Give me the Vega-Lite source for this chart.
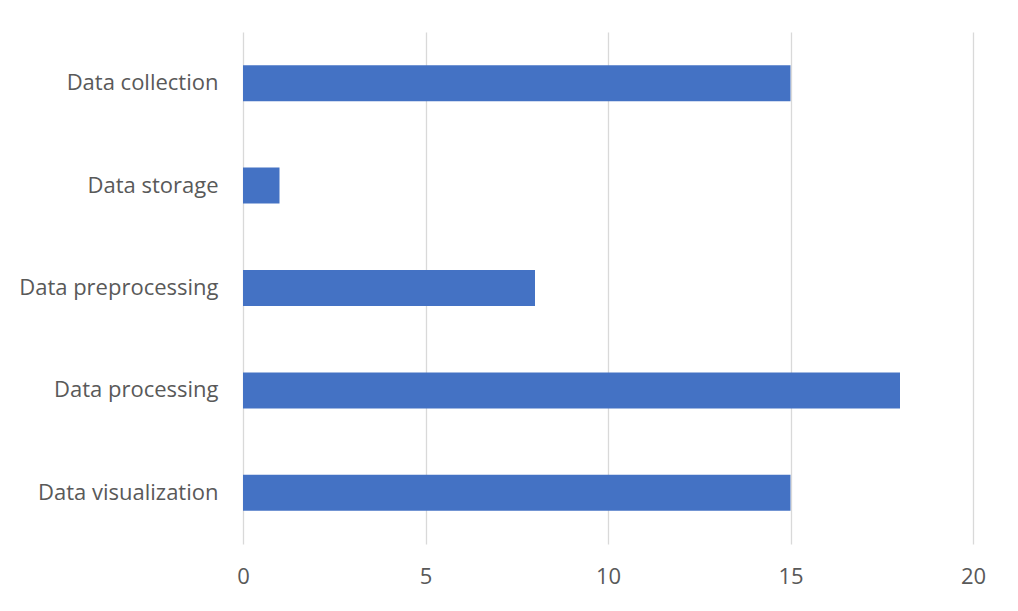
{
  "$schema": "https://vega.github.io/schema/vega-lite/v6.json",
  "width": 730,
  "height": 512,
  "autosize": {"type": "none"},
  "padding": {"left": 243, "top": 32, "right": 45, "bottom": 67},
  "background": "white",
  "data": {"values": [
    {"stage": "Data collection", "value": 15},
    {"stage": "Data storage", "value": 1},
    {"stage": "Data preprocessing", "value": 8},
    {"stage": "Data processing", "value": 18},
    {"stage": "Data visualization", "value": 15}
  ]},
  "mark": {"type": "bar", "color": "#4472c4"},
  "encoding": {
    "y": {
      "field": "stage", "type": "nominal", "sort": null,
      "scale": {"paddingInner": 0.648, "paddingOuter": 0.324},
      "axis": {"title": null, "domain": false, "ticks": false, "labelPadding": 25, "labelLimit": 400,
               "labelFont": "Open Sans", "labelFontSize": 22, "labelColor": "#595959", "grid": false}
    },
    "x": {
      "field": "value", "type": "quantitative",
      "scale": {"domain": [0, 20], "nice": false},
      "axis": {"title": null, "domain": false, "ticks": false, "values": [0, 5, 10, 15, 20],
               "labelPadding": 22, "labelFlush": false, "labelFont": "Open Sans", "labelFontSize": 22, "labelColor": "#595959",
               "grid": true, "gridColor": "#d9d9d9", "gridWidth": 1.3}
    }
  },
  "config": {"view": {"stroke": null}}
}
